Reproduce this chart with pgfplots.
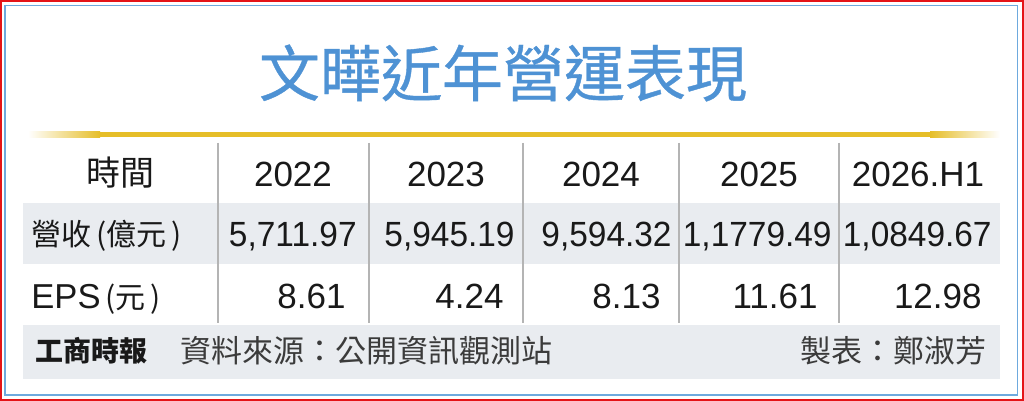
\documentclass[border=0pt]{standalone}
\usepackage{pgfplots}
\pgfplotsset{compat=1.18}
\usepackage{pgfplotstable}
\usepackage{fontspec}
\setmainfont{Liberation Sans}
\newfontfamily\cjk{Noto Sans CJK TC}
\newfontfamily\cjktitle{Noto Sans CJK TC}[FakeBold=0.6]
\newfontfamily\narrow{Liberation Sans}[FakeStretch=0.955]

\definecolor{framered}{RGB}{228,20,24}
\definecolor{frameblue}{RGB}{110,170,222}
\definecolor{titleblue}{RGB}{78,146,212}
\definecolor{gold}{RGB}{230,190,40}
\definecolor{band}{RGB}{233,236,240}
\definecolor{rulegray}{RGB}{180,180,180}
\definecolor{ink}{RGB}{25,25,25}

% column centres / right edges in pixel units of the 1024x401 picture
\pgfplotstableread{
x   y   label
293 187 2022
446 187 2023
601 187 2024
759 187 2025
918 187 2026.H1
}\years

\pgfplotstableread{
x   y   label
357 247 5,711.97
515 247 5,945.19
672 247 9,594.32
832 247 1,1779.49
992 247 1,0849.67
}\revenue

\pgfplotstableread{
x   y   label
346 308 8.61
504 308 4.24
661 308 8.13
818 308 11.61
982 308 12.98
}\eps

\begin{document}
\begin{tikzpicture}
\begin{axis}[
    width=512pt, height=200.5pt,
    scale only axis,
    xmin=0, xmax=1024,
    ymin=0, ymax=401,
    y dir=reverse,
    hide axis,
    clip=false,
    every node near coord/.append style={inner sep=0pt, text=ink,
        font=\fontsize{17.5}{20}\selectfont},
]
% frames
\fill[framered] (0,0) rectangle (1024,401);
\fill[white] (2.5,2.5) rectangle (1021.5,398.5);
\draw[frameblue, line width=0.7pt] (5,5.5) rectangle (1017.5,395);

% title
\node[text=titleblue, font=\cjktitle\fontsize{30.5}{34}\selectfont] at (503,73) {文曄近年營運表現};

% gold rule
\shade[left color=white, right color=gold] (28,132) rectangle (100,137.5);
\fill[gold] (99.5,132) rectangle (930.5,137.5);
\shade[left color=gold, right color=white] (930,132) rectangle (1000,137.5);

% bands
\fill[band] (23,203) rectangle (1000,264);
\fill[band] (23,325) rectangle (1000,379);

% column rules
\draw[rulegray, line width=0.6pt] (218,143) -- (218,323);
\draw[rulegray, line width=0.6pt] (369,143) -- (369,323);
\draw[rulegray, line width=0.6pt] (523,143) -- (523,323);
\draw[rulegray, line width=0.6pt] (679,143) -- (679,323);
\draw[rulegray, line width=0.6pt] (839,143) -- (839,323);

% row labels
\node[anchor=base, inner sep=0pt, text=ink, font=\cjk\fontsize{17}{20}\selectfont] at (120,186) {時間};
\node[anchor=base west, inner sep=0pt, text=ink, font=\cjk\fontsize{15}{18}\selectfont] at (31,246) {營收\,(億元\,)};
\node[anchor=base west, inner sep=0pt, text=ink] at (31,308)
  {\fontsize{17.3}{20}\selectfont EPS{\cjk\fontsize{15}{18}\selectfont\,(元\,)}};

% data
\addplot[draw=none, mark=none, nodes near coords, point meta=explicit symbolic,
    every node near coord/.append style={anchor=base}]
    table[x=x, y=y, meta=label] {\years};
\addplot[draw=none, mark=none, nodes near coords, point meta=explicit symbolic,
    every node near coord/.append style={anchor=base east,
        font=\narrow\fontsize{17.5}{20}\selectfont}]
    table[x=x, y=y, meta=label] {\revenue};
\addplot[draw=none, mark=none, nodes near coords, point meta=explicit symbolic,
    every node near coord/.append style={anchor=base east}]
    table[x=x, y=y, meta=label] {\eps};

% footer
\node[anchor=base west, inner sep=0pt, text=ink, font=\cjk\bfseries\fontsize{14}{16}\selectfont] at (35,361) {工商時報};
\node[anchor=base west, inner sep=0pt, text=ink!85, font=\cjk\fontsize{15.5}{18}\selectfont] at (180,362) {資料來源：公開資訊觀測站};
\node[anchor=base east, inner sep=0pt, text=ink!85, font=\cjk\fontsize{15.5}{18}\selectfont] at (987,362) {製表：鄭淑芳};
\end{axis}
\end{tikzpicture}
\end{document}
